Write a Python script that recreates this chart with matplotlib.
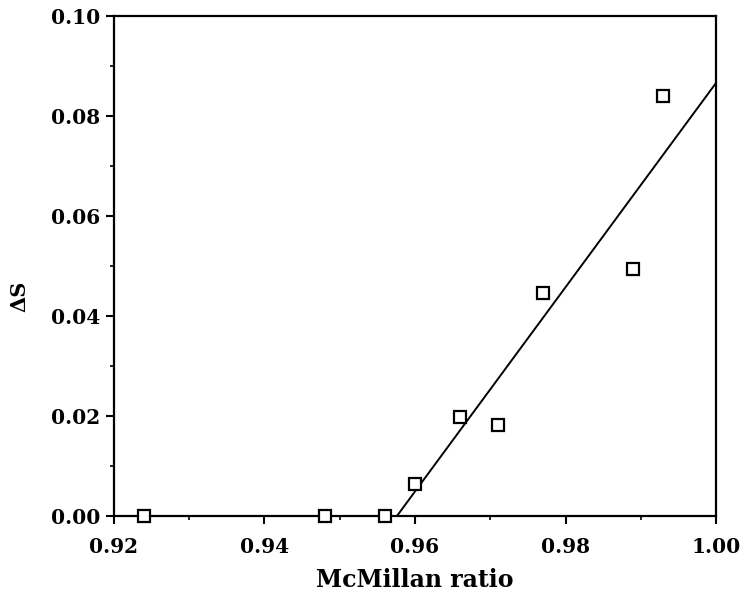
import matplotlib
matplotlib.use('Agg')
import matplotlib.pyplot as plt
from matplotlib.ticker import MultipleLocator

# data
ratio = [0.924, 0.948, 0.956, 0.960, 0.966, 0.971, 0.977, 0.989, 0.993]
delta_s = [0.0, 0.0, 0.0, 0.0064, 0.0198, 0.0182, 0.0446, 0.0494, 0.084]

fit_x = [0.9576, 1.00]
fit_y = [0.0, 0.0866]

plt.rcParams['font.family'] = ['DejaVu Serif']
plt.rcParams['font.weight'] = 'bold'

fig = plt.figure(figsize=(7.46, 5.94), dpi=100)
ax = fig.add_axes([0.1528, 0.1313, 0.807, 0.8418])

ax.plot(fit_x, fit_y, color='black', lw=1.4, zorder=2)
ax.plot(ratio, delta_s, 's', ms=8, mfc='white', mec='black', mew=1.6,
        clip_on=False, zorder=3)

ax.set_xlim(0.92, 1.00)
ax.set_ylim(0.0, 0.10)
ax.xaxis.set_major_locator(MultipleLocator(0.02))
ax.xaxis.set_minor_locator(MultipleLocator(0.01))
ax.yaxis.set_major_locator(MultipleLocator(0.02))
ax.yaxis.set_minor_locator(MultipleLocator(0.01))
ax.xaxis.set_major_formatter(plt.FormatStrFormatter('%.2f'))
ax.yaxis.set_major_formatter(plt.FormatStrFormatter('%.2f'))

ax.tick_params(which='major', direction='out', length=6, width=1.5,
               labelsize=14.5)
ax.tick_params(axis='x', which='major', pad=9)
ax.tick_params(axis='y', which='major', pad=4)
ax.tick_params(which='minor', direction='out', length=3, width=1.2)
for s in ax.spines.values():
    s.set_linewidth(1.6)

ax.set_xlabel('McMillan ratio', fontsize=17, fontweight='bold', labelpad=8)
ax.set_ylabel('ΔS', fontsize=15, fontweight='bold')
ax.yaxis.set_label_coords(-0.14, 0.44)

fig.savefig('out.png', dpi=100)
